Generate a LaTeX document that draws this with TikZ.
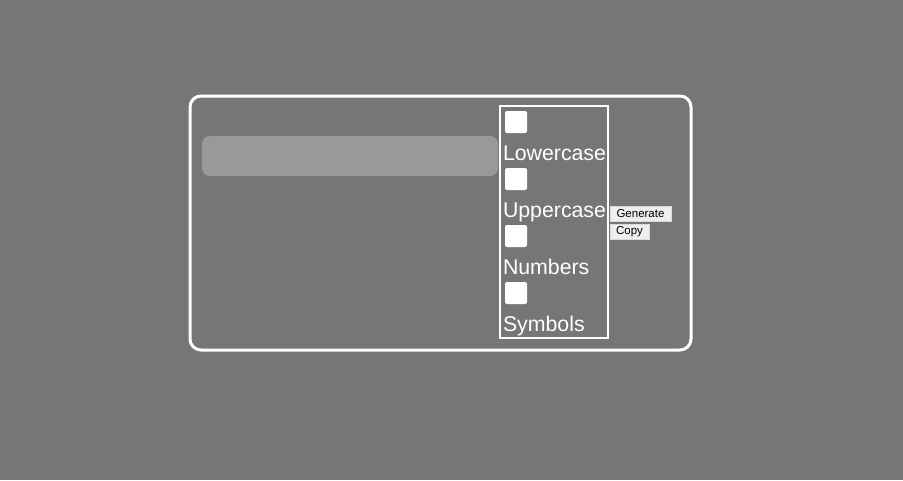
\documentclass[tikz,border=0pt]{standalone}
\usepackage{fontspec}
\setmainfont{Liberation Sans}
\usetikzlibrary{positioning}
\definecolor{pagegray}{HTML}{767676}
\definecolor{fieldgray}{HTML}{999999}
\definecolor{btngray}{HTML}{EFEFEF}
\begin{document}
\begin{tikzpicture}[x=1pt,y=-1pt, every node/.style={outer sep=0pt}, frame/.style={draw=white, rounded corners=11pt, line width=3pt}, tick/.style={fill=white, rounded corners=2pt, minimum size=22pt, inner sep=0pt, anchor=north west}, optlabel/.style={text=white, font=\fontsize{21.3}{24}\selectfont, inner sep=0pt, anchor=base west}, btn/.style={fill=btngray, draw=white!85!black, line width=0.5pt, font=\fontsize{11.5}{13}\selectfont, inner sep=0pt, minimum height=15pt, anchor=north west}]
\fill[pagegray] (0,0) rectangle (903,480);
\useasboundingbox (0,0) rectangle (903,480);
\node[frame, minimum width=501pt, minimum height=254pt, anchor=north west] (card) at (190,96) {};
\node[fill=fieldgray, rounded corners=8pt, minimum width=296pt, minimum height=40pt, anchor=north west] (field) at (202,136) {};
\node[draw=white, line width=2.5pt, minimum width=108pt, minimum height=232pt, anchor=north west] (options) at (500,106) {};
% checkboxes and their labels
\node[tick] (lowerbox) at (505,111) {};
\node[optlabel] (lower) at (503,160) {Lowercase};
\node[tick] (upperbox) at (505,168) {};
\node[optlabel] (upper) at (503,217) {Uppercase};
\node[tick] (numbox) at (505,225) {};
\node[optlabel] (num) at (503,274) {Numbers};
\node[tick] (symbox) at (505,282) {};
\node[optlabel] (sym) at (503,331) {Symbols};
% buttons
\node[btn, minimum width=61pt] (generate) at (610,206) {Generate};
\node[btn, minimum width=39pt] (copy) at (610,224) {Copy};
\end{tikzpicture}
\end{document}
